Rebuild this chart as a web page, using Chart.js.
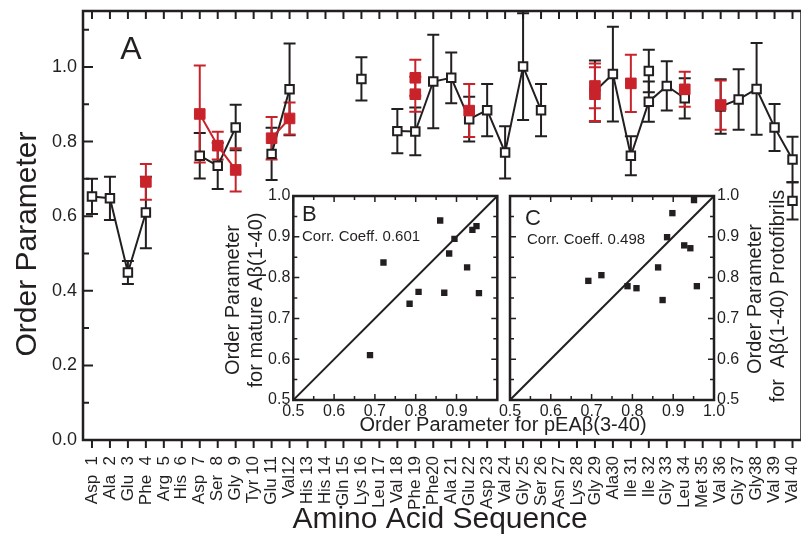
<!DOCTYPE html>
<html>
<head>
<meta charset="utf-8">
<script src="https://cdn.jsdelivr.net/npm/chart.js@4.4.1/dist/chart.umd.min.js"></script>
<style>
  html, body { margin: 0; padding: 0; background: #fff; overflow: hidden; }
  #wrap { position: relative; width: 801px; height: 541px; overflow: hidden; }
  #wrap canvas { position: absolute; left: 0; top: 0; }
</style>
</head>
<body>
<div id="wrap">
  <canvas id="main" width="810" height="541"></canvas>
  <canvas id="insetB" width="801" height="541"></canvas>
  <canvas id="insetC" width="801" height="541"></canvas>
</div>
<script>
// ---- data ----
const residues = ['Asp  1', 'Ala  2', 'Glu  3', 'Phe  4', 'Arg  5', 'His  6', 'Asp  7', 'Ser  8', 'Gly  9', 'Tyr 10',
  'Glu 11', 'Val12', 'His 13', 'His 14', 'Gln 15', 'Lys 16', 'Leu 17', 'Val 18', 'Phe 19', 'Phe20',
  'Ala 21', 'Glu 22', 'Asp 23', 'Val 24', 'Gly 25', 'Ser 26', 'Asn 27', 'Lys 28', 'Gly 29', 'Ala30',
  'Ile 31', 'Ile 32', 'Gly 33', 'Leu 34', 'Met 35', 'Val 36', 'Gly 37', 'Gly38', 'Val 39', 'Val 40'];
const yTicks = [0.0, 0.2, 0.4, 0.6, 0.8, 1.0];

// mature A-beta(1-40), open black squares
const blackX = [1, 2, 3, 4, 7, 8, 9, 11, 12, 16, 18, 19, 20, 21, 22, 23, 24, 25, 26,
  29, 30, 31, 32, 33, 34, 36, 37, 38, 39, 40];
const blackY = [0.653, 0.648, 0.449, 0.610, 0.762, 0.735, 0.838, 0.767, 0.940, 0.968,
  0.828, 0.827, 0.961, 0.971, 0.860, 0.884, 0.771, 1.001, 0.884,
  0.935, 0.981, 0.762, 0.907, 0.949, 0.916, 0.894, 0.913, 0.941, 0.838, 0.752];
const blackErr = [0.047, 0.058, 0.031, 0.096, 0.061, 0.062, 0.061, 0.070, 0.123, 0.058,
  0.059, 0.064, 0.125, 0.068, 0.060, 0.070, 0.070, 0.143, 0.070,
  0.082, 0.127, 0.052, 0.054, 0.066, 0.054, 0.073, 0.081, 0.123, 0.063, 0.061];
// second black values at the same residue (not joined)
const blackExtraX = [32, 40];
const blackExtraY = [0.989, 0.641];
const blackExtraErr = [0.057, 0.050];

// pEA-beta(3-40), filled red squares
const redX = [4, 7, 8, 9, 11, 12, 19, 19, 22, 29, 29, 31, 34, 36];
const redY = [0.692, 0.874, 0.789, 0.724, 0.809, 0.862, 0.971, 0.927, 0.883, 0.949, 0.927, 0.956, 0.940, 0.898];
const redErr = [0.048, 0.130, 0.037, 0.058, 0.057, 0.043, 0.048, 0.047, 0.071, 0.060, 0.072, 0.077, 0.047, 0.066];

// insets
const insetTicks = [0.5, 0.6, 0.7, 0.8, 0.9, 1.0];
const diagonal = [0.5, 1.0];
const bX = [0.688, 0.721, 0.785, 0.807, 0.860, 0.870, 0.882, 0.895, 0.926, 0.939, 0.949, 0.955];
const bY = [0.610, 0.837, 0.736, 0.765, 0.940, 0.763, 0.859, 0.895, 0.825, 0.917, 0.926, 0.762];
const cX = [0.692, 0.724, 0.788, 0.810, 0.863, 0.874, 0.885, 0.898, 0.927, 0.942, 0.951, 0.958];
const cY = [0.792, 0.806, 0.779, 0.774, 0.825, 0.745, 0.899, 0.958, 0.879, 0.872, 0.990, 0.779];

// ---- style ----
const INK = '#231f20';
const RED = '#c8232b';
const FONT = '"Liberation Sans", Arial, Helvetica, sans-serif';
Chart.defaults.font.family = FONT;
Chart.defaults.color = INK;

// points with a null between residues that are not neighbours, so the line breaks there
function toPoints(xs, ys, es) {
  const pts = [];
  xs.forEach((x, i) => {
    if (i > 0 && x - xs[i - 1] > 1) pts.push({x: (x + xs[i - 1]) / 2, y: null});
    pts.push({x: x, y: ys[i], e: es[i]});
  });
  return pts;
}

// fixed axis size, no extra label padding
function fixSize(prop, val) {
  return s => {
    s[prop] = val;
    s.paddingLeft = s.paddingRight = s.paddingTop = s.paddingBottom = 0;
  };
}

function drawText(ctx, text, x, y, size, align, rot) {
  ctx.save();
  ctx.translate(x, y);
  if (rot) ctx.rotate(rot);
  ctx.font = size + 'px ' + FONT;
  ctx.fillStyle = INK;
  ctx.textAlign = align || 'center';
  ctx.textBaseline = 'middle';
  ctx.fillText(text, 0, 0);
  ctx.restore();
}

const errorBars = {
  id: 'errorBars',
  beforeDatasetsDraw(chart) {
    const {ctx, scales: {x, y}} = chart;
    for (let di = chart.data.datasets.length - 1; di >= 0; di--) {
      const ds = chart.data.datasets[di];
      if (!ds.errorBars) continue;
      ctx.save();
      ctx.strokeStyle = ds.borderColor;
      ctx.lineWidth = 2;
      ctx.beginPath();
      ds.data.forEach(p => {
        if (p.y == null || !p.e) return;
        const px = x.getPixelForValue(p.x);
        const top = y.getPixelForValue(p.y + p.e);
        const bot = y.getPixelForValue(p.y - p.e);
        ctx.moveTo(px, top); ctx.lineTo(px, bot);
        ctx.moveTo(px - 6, top); ctx.lineTo(px + 6, top);
        ctx.moveTo(px - 6, bot); ctx.lineTo(px + 6, bot);
      });
      ctx.stroke();
      ctx.restore();
    }
  }
};

const mainFrame = {
  id: 'mainFrame',
  afterDraw(chart) {
    const {ctx, chartArea: a, scales: {x, y}} = chart;
    ctx.save();
    ctx.strokeStyle = INK;
    ctx.lineWidth = 2.5;
    ctx.strokeRect(a.left, a.top, a.right - a.left, a.bottom - a.top);
    ctx.lineWidth = 2;
    ctx.beginPath();
    x.ticks.forEach(t => {
      const px = x.getPixelForValue(t.value);
      ctx.moveTo(px, a.bottom); ctx.lineTo(px, a.bottom + 8);
      ctx.moveTo(px, a.top); ctx.lineTo(px, a.top + 8);
    });
    for (let k = 1; k <= 11; k++) {
      const py = y.getPixelForValue(k / 10);
      ctx.moveTo(a.left, py); ctx.lineTo(a.left + (k % 2 === 0 ? 10 : 6), py);
    }
    ctx.stroke();
    ctx.restore();
    drawText(ctx, 'Order Parameter', 28, 244, 30, 'center', -Math.PI / 2);
    drawText(ctx, 'Amino Acid Sequence', 440, 520, 30, 'center');
    drawText(ctx, 'A', 131, 50, 32, 'center');
  }
};

new Chart(document.getElementById('main'), {
  type: 'line',
  data: {
    datasets: [
      {
        data: toPoints(redX, redY, redErr), errorBars: true,
        borderColor: RED, backgroundColor: RED, borderWidth: 2,
        pointStyle: 'rect', pointRadius: 7.5, pointBackgroundColor: RED, pointBorderColor: RED, pointBorderWidth: 1
      },
      {
        data: toPoints(blackX, blackY, blackErr), errorBars: true,
        borderColor: INK, backgroundColor: '#fff', borderWidth: 2,
        pointStyle: 'rect', pointRadius: 6, pointBackgroundColor: '#fff', pointBorderColor: INK, pointBorderWidth: 2
      },
      {
        data: blackExtraX.map((x, i) => ({x: x, y: blackExtraY[i], e: blackExtraErr[i]})), errorBars: true,
        showLine: false, borderColor: INK, backgroundColor: '#fff',
        pointStyle: 'rect', pointRadius: 6, pointBackgroundColor: '#fff', pointBorderColor: INK, pointBorderWidth: 2
      }
    ]
  },
  options: {
    responsive: false,
    animation: false,
    events: [],
    layout: {padding: {top: 11, right: 4, left: 0, bottom: 0}},
    plugins: {legend: {display: false}, tooltip: {enabled: false}},
    scales: {
      x: {
        type: 'linear', min: 0.5, max: 40.5,
        afterBuildTicks: s => { s.ticks = residues.map((_, i) => ({value: i + 1})); },
        afterFit: fixSize('height', 101),
        grid: {display: false, drawTicks: false},
        border: {display: false},
        ticks: {
          autoSkip: false, minRotation: 90, maxRotation: 90, padding: 16,
          font: {size: 17}, color: INK,
          callback: v => residues[Math.round(v) - 1]
        }
      },
      y: {
        min: 0, max: 1.15,
        afterBuildTicks: s => { s.ticks = yTicks.map(v => ({value: v})); },
        afterFit: fixSize('width', 83),
        grid: {display: false, drawTicks: false},
        border: {display: false},
        ticks: {padding: 6, font: {size: 18}, color: INK, callback: v => v.toFixed(1)}
      }
    }
  },
  plugins: [errorBars, mainFrame]
});

// ---- insets ----
const insetDecor = {
  id: 'insetDecor',
  afterDraw(chart, args, opts) {
    const {ctx, chartArea: a, scales: {x, y}} = chart;
    ctx.save();
    ctx.strokeStyle = INK;
    ctx.lineWidth = 2.5;
    ctx.strokeRect(a.left, a.top, a.right - a.left, a.bottom - a.top);
    ctx.lineWidth = 1.5;
    ctx.beginPath();
    for (let k = 0; k <= 10; k++) {
      const v = 0.5 + k * 0.05;
      const len = k % 2 === 0 ? 6 : 4;
      const px = x.getPixelForValue(v), py = y.getPixelForValue(v);
      ctx.moveTo(px, a.bottom); ctx.lineTo(px, a.bottom - len);
      ctx.moveTo(px, a.top); ctx.lineTo(px, a.top + len);
      ctx.moveTo(a.left, py); ctx.lineTo(a.left + len, py);
      ctx.moveTo(a.right, py); ctx.lineTo(a.right - len, py);
    }
    ctx.stroke();
    ctx.restore();
    drawText(ctx, opts.letter, opts.letterX, opts.letterY, 22, 'left');
    drawText(ctx, opts.corr, opts.corrX, opts.corrY, 15, 'left');
    opts.titles.forEach(t => drawText(ctx, t.text, t.x, t.y, 20, 'center', -Math.PI / 2));
    if (opts.xTitle) drawText(ctx, opts.xTitle, 503, 425, 20, 'center');
  }
};

function insetChart(id, xs, ys, yPos, padding, yWidth, skipLast, decor) {
  return new Chart(document.getElementById(id), {
    type: 'scatter',
    data: {
      datasets: [
        {
          data: xs.map((x, i) => ({x: x, y: ys[i]})),
          pointStyle: 'rect', pointRadius: 4.5, pointBackgroundColor: INK, pointBorderColor: INK, pointBorderWidth: 0
        },
        {
          data: diagonal.map(v => ({x: v, y: v})),
          showLine: true, borderColor: INK, borderWidth: 2, pointRadius: 0
        }
      ]
    },
    options: {
      responsive: false,
      animation: false,
      events: [],
      layout: {padding: padding},
      plugins: {legend: {display: false}, tooltip: {enabled: false}, insetDecor: decor},
      scales: {
        x: {
          min: 0.5, max: 1.0,
          afterBuildTicks: s => { s.ticks = insetTicks.map(v => ({value: v})); },
          afterFit: fixSize('height', 40),
          grid: {display: false, drawTicks: false},
          border: {display: false},
          ticks: {padding: 2, font: {size: 16}, color: INK,
            callback: v => (skipLast && v > 0.95) ? '' : v.toFixed(1)}
        },
        y: {
          position: yPos, min: 0.5, max: 1.0,
          afterBuildTicks: s => { s.ticks = insetTicks.map(v => ({value: v})); },
          afterFit: fixSize('width', yWidth),
          grid: {display: false, drawTicks: false},
          border: {display: false},
          ticks: {padding: 3, font: {size: 16}, color: INK, callback: v => v.toFixed(1)}
        }
      }
    },
    plugins: [insetDecor]
  });
}

insetChart('insetB', bX, bY, 'left', {left: 250, top: 196, right: 303.7, bottom: 101}, 43.3, true, {
  letter: 'B', letterX: 302, letterY: 215,
  corr: 'Corr. Coeff. 0.601', corrX: 302, corrY: 237,
  titles: [{text: 'Order Parameter', x: 233, y: 300}, {text: 'for mature A\u03b2(1-40)', x: 256, y: 300}],
  xTitle: 'Order Parameter for pEA\u03b2(3-40)'
});
insetChart('insetC', cX, cY, 'right', {left: 510, top: 196, right: 52, bottom: 101}, 35, false, {
  letter: 'C', letterX: 525, letterY: 219,
  corr: 'Corr. Coeff. 0.498', corrX: 527, corrY: 240,
  titles: [{text: 'Order Parameter', x: 755, y: 299}, {text: 'for  A\u03b2(1-40) Protofibrils', x: 778, y: 296}]
});
</script>
</body>
</html>
